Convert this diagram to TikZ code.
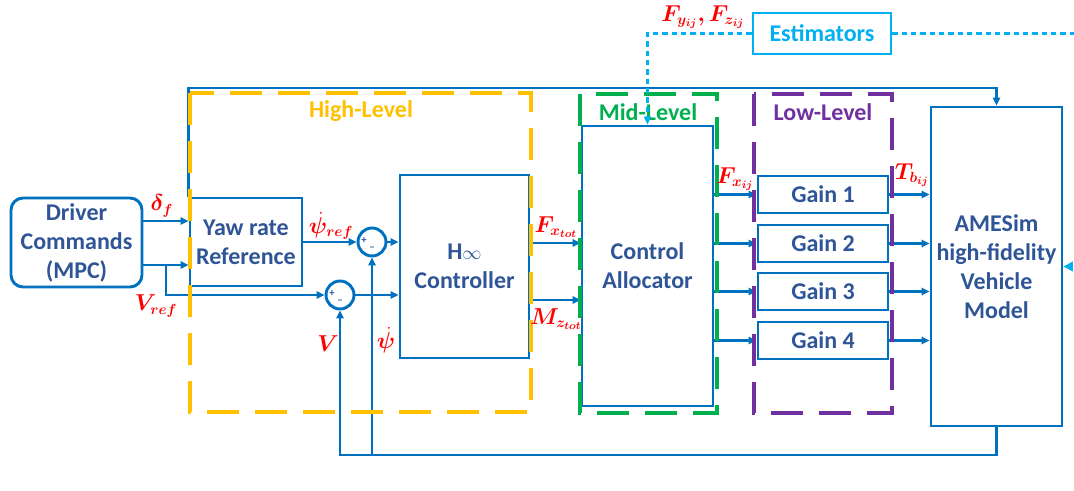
\documentclass[tikz,border=0pt]{standalone}
\usepackage{fontspec}
\setmainfont{Carlito}
\usepackage{amsmath,bm}
\usepackage{tikz}
\usetikzlibrary{arrows.meta,positioning,calc}
\definecolor{cLine}{HTML}{0070C0}
\definecolor{cText}{HTML}{2F5597}
\definecolor{cSig} {HTML}{FF0000}
\definecolor{cEst} {HTML}{00B0F0}
\definecolor{cHigh}{HTML}{FFC000}
\definecolor{cMid} {HTML}{00B050}
\definecolor{cLow} {HTML}{7030A0}
\tikzset{
  blk/.style   ={draw=cLine,fill=white,line width=2.2pt,align=center,inner sep=0pt,
                 font=\fontsize{18}{21.75}\selectfont\bfseries,text=cText},
  gain/.style  ={blk,minimum width=97.5pt,minimum height=27.75pt},
  sumj/.style  ={circle,draw=cLine,line width=2.2pt,minimum size=21pt,inner sep=0pt},
  sgn/.style   ={font=\fontsize{8}{8}\selectfont\bfseries,text=cText,inner sep=0pt},
  sig/.style   ={-{Triangle[length=6pt,width=5.5pt]},draw=cLine,line width=1.8pt},
  lvl/.style   ={dash pattern=on 24pt off 12pt,line width=2.4pt},
  lvltxt/.style={font=\fontsize{18}{20}\selectfont\bfseries,inner sep=0pt},
  est/.style   ={draw=cEst,line width=1.9pt,dash pattern=on 4pt off 3pt},
  var/.style   ={text=cSig,font=\fontsize{16}{17}\selectfont,inner sep=0pt},
}

\begin{document}
\begin{tikzpicture}[x=0.75pt,y=-0.75pt]
\useasboundingbox (0,0) rectangle (1074,491);

% ---- blocks --------------------------------------------------------------
\node[blk,rounded corners=9pt,minimum width=98.25pt,minimum height=66.75pt] (drv)
  at (76.5,242.5) {Driver\\Commands\\(MPC)};
\node[blk,minimum width=84pt,minimum height=66pt] (yaw) at (246,242) {Yaw rate\\Reference};
\node[sumj] (sumr) at (372,242) {};
\node[sumj] (sumv) at (340,295) {};
\node[blk,minimum width=96.75pt,minimum height=137.25pt] (ctrl) at (464.5,266.5)
  {H{\mdseries\fontsize{14}{14}\selectfont$\infty$}\\Controller};
\node[blk,minimum width=98.25pt,minimum height=210pt] (ca) at (647.5,266) {Control\\Allocator};
\node[gain] (g1) at (823,194.5) {Gain 1};
\node[gain] (g2) at (823,243.5) {Gain 2};
\node[gain] (g3) at (823,291.5) {Gain 3};
\node[gain] (g4) at (823,340.5) {Gain 4};
\node[blk,minimum width=98.25pt,minimum height=239.25pt] (ames) at (996.5,266.5)
  {AMESim\\high-fidelity\\Vehicle\\Model};
\node[blk,draw=cEst,text=cEst,minimum width=103.5pt,minimum height=30.75pt] (est)
  at (822,33.5) {Estimators};

\foreach \s in {sumr,sumv}{
  \node[sgn] (\s-p) at ([xshift=-6pt,yshift=1pt]\s.center) {+};
  \node[sgn] (\s-m) at ([yshift=-5pt]\s.center) {--};}

% ---- signals -------------------------------------------------------------
\coordinate (vbr) at (166,265);
\coordinate (fb)  at (0,455);
\coordinate (eo)  at (1090,0);
\draw[sig] (drv.east |- 0,221) -- (yaw.west |- 0,221);
\draw[sig] (drv.east |- vbr) -- (yaw.west |- vbr);
\draw[sig] (vbr) |- (sumv.west);
\draw[sig] (yaw.east) -- (sumr.west);
\draw[sig] (sumr.east) -- (sumr.east -| ctrl.west);
\draw[sig] (sumv.east) -- (sumv.east -| ctrl.west);
\draw[sig] (ctrl.east |- 0,243) -- (ca.west |- 0,243);
\draw[sig] (ctrl.east |- 0,300) -- (ca.west |- 0,300);
\foreach \g in {g1,g2,g3,g4}{
  \draw[sig] (ca.east |- \g.west) -- (\g.west);
  \draw[sig] (\g.east) -- (ames.west |- \g.east);}
\draw[sig] (yaw.north west) |- (ames.north |- 0,88) -- (ames.north);
\draw[sig] (ames.south) |- (sumv.south |- fb) -- (sumv.south);
\draw[sig] (sumr.south |- fb) -- (sumr.south);

% ---- levels --------------------------------------------------------------
\draw[lvl,draw=cHigh] (190,93) rectangle (531,412);
\draw[lvl,draw=cMid]  (580,94) rectangle (717,413);
\draw[lvl,draw=cLow]  (754,94) rectangle (892,413);
\node[lvltxt,text=cHigh] (hltxt) at (361,111) {High-Level};
\node[lvltxt,text=cMid]  (mltxt) at (648,112) {Mid-Level};
\node[lvltxt,text=cLow]  (lltxt) at (823,112) {Low-Level};

% ---- estimators ----------------------------------------------------------
\draw[est,-{Triangle[length=6pt,width=5.5pt]}] (est.west) -| (ca.north);
\draw[est,-{Triangle[length=7pt,width=7pt]}] (est.east) -- (est.east -| eo) |- (ames.east);

% ---- signal names --------------------------------------------------------
\node[var] (ldf)  at (162,206) {$\bm{\delta_f}$};
\node[var] (lvr)  at (156,306) {$\bm{V_{ref}}$};
\node[var] (lpr)  at (331,226) {$\bm{\dot\psi_{ref}}$};
\node[var] (lv)   at (328,344) {$\bm{V}$};
\node[var] (lp)   at (386,340) {$\bm{\dot\psi}$};
\node[var] (lfx)  at (556,227) {$\bm{F_{x_{tot}}}$};
\node[var] (lmz)  at (556,319) {$\bm{M_{z_{tot}}}$};
\node[var] (lfij) at (735,179) {$\bm{F_{x_{ij}}}$};
\node[var] (ltb)  at (912,175) {$\bm{T_{b_{ij}}}$};
\node[var] (lfyz) at (703,17)  {$\bm{F_{y_{ij}},F_{z_{ij}}}$};
\end{tikzpicture}
\end{document}
